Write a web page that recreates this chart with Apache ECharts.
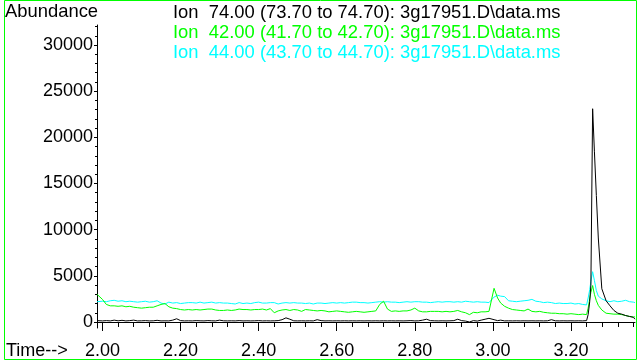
<!DOCTYPE html>
<html>
<head>
<meta charset="utf-8">
<script src="https://cdn.jsdelivr.net/npm/echarts@6/dist/echarts.min.js"></script>
<style>
  html, body { margin: 0; padding: 0; background: #fff; }
  #chart { width: 639px; height: 363px; }
</style>
</head>
<body>
<div id="chart"></div>
<script>
// Retention time (min) of each scan
const times = [
  1.986, 2.00, 2.01, 2.02, 2.03, 2.04, 2.05, 2.06, 2.07, 2.08, 2.09,
  2.10, 2.11, 2.12, 2.13, 2.14, 2.15, 2.16, 2.17, 2.18, 2.19,
  2.20, 2.21, 2.22, 2.23, 2.24, 2.25, 2.26, 2.27, 2.28, 2.29,
  2.30, 2.31, 2.32, 2.33, 2.34, 2.35, 2.36, 2.37, 2.38, 2.39,
  2.40, 2.41, 2.42, 2.43, 2.44, 2.45, 2.46, 2.47, 2.48, 2.49,
  2.50, 2.51, 2.52, 2.53, 2.54, 2.55, 2.56, 2.57, 2.58, 2.59,
  2.60, 2.61, 2.62, 2.63, 2.64, 2.65, 2.66, 2.67, 2.68, 2.69,
  2.70, 2.71, 2.72, 2.73, 2.74, 2.75, 2.76, 2.77, 2.78, 2.79,
  2.80, 2.81, 2.82, 2.83, 2.84, 2.85, 2.86, 2.87, 2.88, 2.89,
  2.90, 2.91, 2.92, 2.93, 2.94, 2.95, 2.96, 2.97, 2.98, 2.99,
  2.995, 3.003, 3.012, 3.02, 3.03, 3.04, 3.05, 3.06, 3.07, 3.08, 3.09,
  3.10, 3.11, 3.12, 3.13, 3.14, 3.15, 3.16, 3.17, 3.18, 3.19,
  3.20, 3.21, 3.22, 3.23, 3.24, 3.244, 3.248, 3.251, 3.2555, 3.26,
  3.265, 3.27, 3.279, 3.29, 3.30, 3.31, 3.32, 3.33, 3.34, 3.35,
  3.36, 3.364
];

// Ion 74.00 abundance
const ion74 = [
  150, 120, 150, 120, 200, 130, 180, 120, 150, 200, 120,
  130, 150, 120, 130, 180, 120, 130, 120, 200, 350,
  150, 120, 130, 120, 150, 130, 120, 150, 130, 120,
  200, 130, 120, 130, 120, 150, 120, 130, 120, 130,
  150, 120, 130, 120, 130, 150, 250, 450, 300, 130,
  120, 130, 120, 130, 120, 250, 150, 120, 130, 120,
  130, 120, 130, 120, 130, 120, 130, 120, 130, 120,
  130, 120, 130, 120, 130, 120, 130, 120, 130, 150,
  120, 130, 200, 300, 150, 130, 120, 130, 120, 130,
  150, 300, 150, 100, 0, 150, 100, 200, 300, 400,
  350, 250, 150, 200, 120, 130, 120, 130, 120, 130, 120,
  130, 120, 130, 120, 130, 250, 130, 120, 130, 120,
  130, 120, 130, 120, 150, 800, 2200, 4000, 23100, 18500,
  13700, 9100, 3600, 2300, 1750, 1250, 950, 850, 700, 600,
  500, 300
];

// Ion 42.00 abundance
const ion42 = [
  3000, 2450, 1900, 1750, 1750, 1700, 1750, 1650, 1700, 1600, 1550,
  1500, 1550, 1600, 1600, 1750, 1900, 2000, 1650, 1500, 1450,
  1350, 1300, 1350, 1300, 1350, 1300, 1350, 1400, 1400, 1300,
  1250, 1250, 1300, 1250, 1300, 1400, 1350, 1350, 1300, 1350,
  1350, 1400, 1300, 1450, 1000, 1200, 1300, 1350, 1250, 1350,
  1300, 1150, 1350, 1300, 1250, 1200, 1250, 1200, 1100, 1150,
  1200, 1150, 1100, 1050, 1100, 1150, 1100, 1050, 1100, 1150,
  1200, 1900, 2250, 1400, 1150, 1200, 1150, 1200, 1200, 1300,
  1500, 1200, 1100, 1100, 1150, 1150, 1150, 1100, 1150, 1100,
  1150, 1250, 1100, 1000, 800, 1050, 1000, 1100, 1100, 1150,
  1150, 3650, 2600, 2050, 1700, 1500, 1350, 1300, 1250, 1200, 1400,
  1150, 1100, 1150, 1050, 1000, 950, 950, 900, 900, 850,
  900, 850, 800, 850, 800, 1500, 2500, 3200, 3950, 3000,
  2300, 1800, 1300, 950, 900, 850, 850, 800, 700, 600,
  550, 550
];

// Ion 44.00 abundance
const ion44 = [
  2200, 2250, 2200, 2300, 2350, 2250, 2300, 2200, 2250, 2200, 2150,
  2200, 2250, 2150, 2200, 2300, 2050, 1950, 2150, 2050, 2100,
  2000, 2050, 2100, 2100, 2050, 2150, 2050, 2100, 2150, 2050,
  2100, 2050, 2050, 2000, 1950, 2100, 2000, 2050, 2000, 2100,
  2150, 2050, 2050, 2100, 2100, 1950, 2050, 2100, 2050, 2100,
  2050, 2050, 2000, 2050, 1950, 2050, 2050, 2000, 2050, 2100,
  2050, 2100, 2050, 2100, 2150, 2150, 2100, 2100, 2050, 2100,
  2150, 2200, 2150, 2200, 2150, 2150, 2100, 2150, 2200, 2150,
  2200, 2200, 2150, 2150, 2100, 2150, 2200, 2150, 2200, 2200,
  2150, 2200, 2150, 2250, 2200, 2150, 2200, 2150, 2150, 2100,
  2150, 2700, 2900, 2800, 2750, 2300, 2250, 2200, 2250, 2300, 2350,
  2450, 2250, 2200, 2100, 2150, 2100, 2000, 2050, 2000, 2000,
  2050, 1950, 2000, 1900, 1850, 2600, 3500, 4400, 5450, 4500,
  3400, 2800, 2500, 2300, 2200, 2300, 2200, 2250, 2350, 2200,
  2150, 2100
];

// Trace labels, top to bottom
const traceLabels = [
  'Ion  74.00 (73.70 to 74.70): 3g17951.D\\data.ms',
  'Ion  42.00 (41.70 to 42.70): 3g17951.D\\data.ms',
  'Ion  44.00 (43.70 to 44.70): 3g17951.D\\data.ms'
];

// Axis tick labels
const timeTicks = [2.00, 2.20, 2.40, 2.60, 2.80, 3.00, 3.20];
const abundanceTicks = [0, 5000, 10000, 15000, 20000, 25000, 30000];

const FONT = '"Liberation Sans", Arial, sans-serif';
const TEXT_FONT = '18.4px ' + FONT;
const BLACK = '#000000';
const GREEN = '#00ff00';
const CYAN = '#00ffff';

// Minor tick positions: every 0.04 min and every 1000 counts
const timeMinor = [];
for (let k = 50; k <= 84; k++) { if (k % 5 !== 0) timeMinor.push(k * 4 / 100); }
const abundanceMinor = [];
for (let k = 1; k <= 32; k++) { if (k % 5 !== 0) abundanceMinor.push(k * 1000); }

const X_MIN = 1.986, X_MAX = 3.364;
const Y_MIN = -650, Y_MAX = 32170;

const pairs = (vals) => times.map((t, i) => [t, vals[i]]);

const chart = echarts.init(document.getElementById('chart'), null, { renderer: 'canvas' });

const lineSeries = (name, vals, color) => ({
  name, type: 'line', xAxisIndex: 0, yAxisIndex: 0,
  data: pairs(vals), showSymbol: false, symbol: 'none',
  lineStyle: { color, width: 1 }, itemStyle: { color },
  silent: true, z: 3
});

chart.setOption({
  animation: false,
  backgroundColor: '#ffffff',
  grid: { left: 97, right: 4, top: 25, bottom: 35, containLabel: false },
  xAxis: [
    {
      type: 'value', min: X_MIN, max: X_MAX, position: 'bottom',
      axisLine: { show: true, lineStyle: { color: BLACK, width: 1 } },
      axisTick: { show: true, customValues: timeTicks, length: 9, lineStyle: { color: BLACK } },
      axisLabel: {
        show: true, customValues: timeTicks, margin: 14,
        formatter: (v) => v.toFixed(2),
        color: BLACK, fontSize: 18, fontFamily: FONT
      },
      splitLine: { show: false }
    },
    {
      type: 'value', min: X_MIN, max: X_MAX, position: 'bottom',
      axisLine: { show: false },
      axisTick: { show: true, customValues: timeMinor, length: 5, lineStyle: { color: BLACK } },
      axisLabel: { show: false },
      splitLine: { show: false }
    }
  ],
  yAxis: [
    {
      type: 'value', min: Y_MIN, max: Y_MAX, position: 'left',
      axisLine: { show: true, lineStyle: { color: BLACK, width: 1 } },
      axisTick: { show: true, customValues: abundanceTicks, length: 3, lineStyle: { color: BLACK } },
      axisLabel: {
        show: true, customValues: abundanceTicks, margin: 4,
        formatter: (v) => String(v),
        color: BLACK, fontSize: 18, fontFamily: FONT
      },
      splitLine: { show: false }
    },
    {
      type: 'value', min: Y_MIN, max: Y_MAX, position: 'left',
      axisLine: { show: false },
      axisTick: { show: true, customValues: abundanceMinor, length: 2, lineStyle: { color: BLACK } },
      axisLabel: { show: false },
      splitLine: { show: false }
    }
  ],
  series: [
    lineSeries('Ion 44.00', ion44, CYAN),
    lineSeries('Ion 42.00', ion42, GREEN),
    lineSeries('Ion 74.00', ion74, BLACK)
  ],
  graphic: [
    {
      type: 'rect', silent: true,
      shape: { x: 4.5, y: 0.5, width: 632, height: 359 },
      style: { fill: null, stroke: GREEN, lineWidth: 1 }
    },
    {
      type: 'text', x: 5, y: 12, silent: true,
      style: { text: 'Abundance', fill: BLACK, font: TEXT_FONT, verticalAlign: 'middle' }
    },
    {
      type: 'text', x: 6, y: 351, silent: true,
      style: { text: 'Time-->', fill: BLACK, font: '18px ' + FONT, verticalAlign: 'middle' }
    },
    {
      type: 'text', x: 173, y: 13, silent: true,
      style: { text: traceLabels[0], fill: BLACK, font: TEXT_FONT, verticalAlign: 'middle' }
    },
    {
      type: 'text', x: 173, y: 33, silent: true,
      style: { text: traceLabels[1], fill: GREEN, font: TEXT_FONT, verticalAlign: 'middle' }
    },
    {
      type: 'text', x: 173, y: 53, silent: true,
      style: { text: traceLabels[2], fill: CYAN, font: TEXT_FONT, verticalAlign: 'middle' }
    }
  ]
});
</script>
</body>
</html>
